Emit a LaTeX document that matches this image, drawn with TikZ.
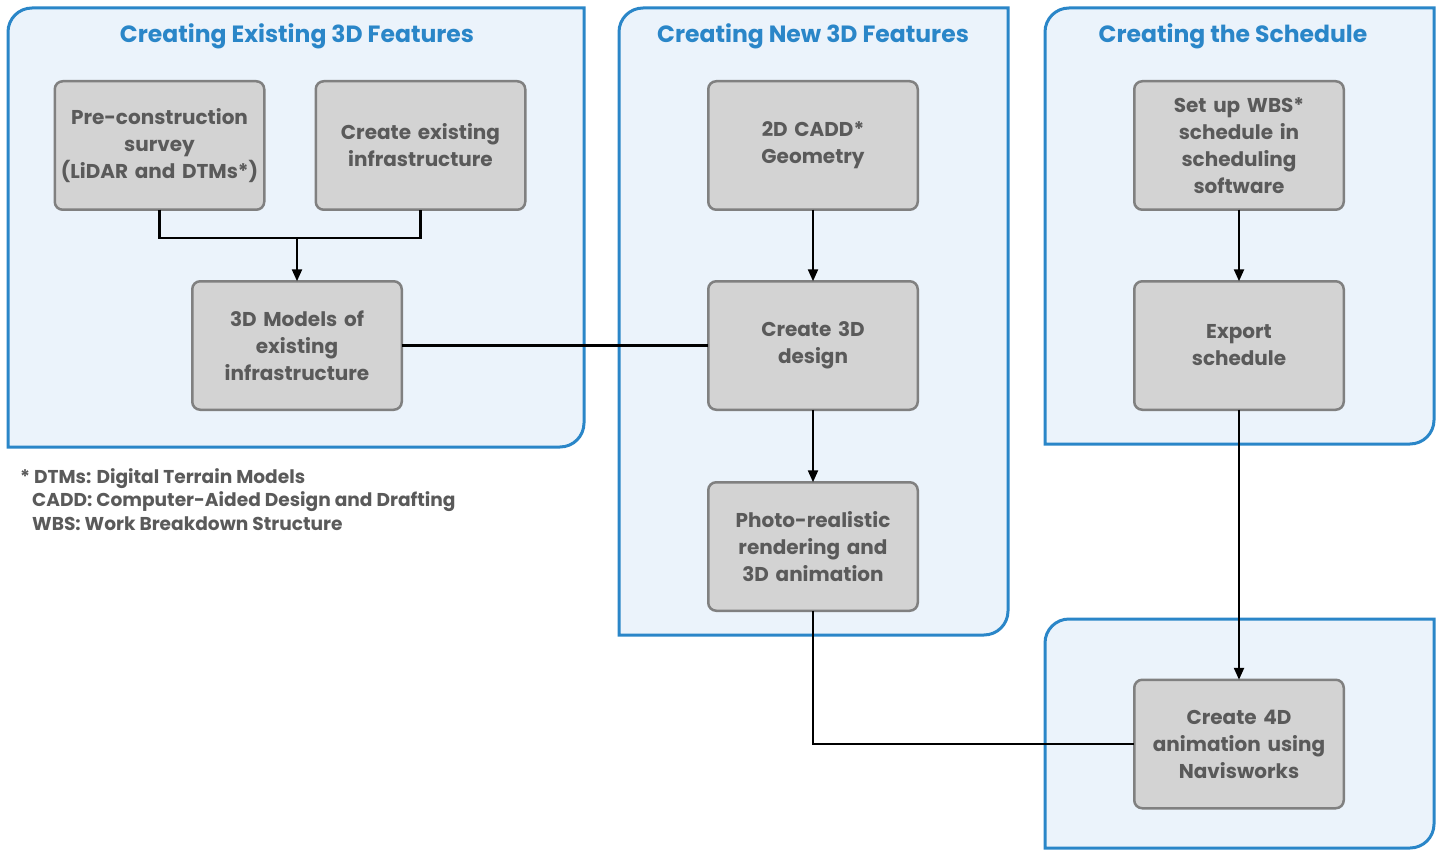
\documentclass[tikz,border=0pt]{standalone}
\usepackage{fontspec}
\setmainfont{Poppins}
\usetikzlibrary{positioning,arrows.meta}
\definecolor{panelblue}{HTML}{2A86C8}
\definecolor{panelfill}{HTML}{EBF3FB}
\definecolor{boxfill}{HTML}{D3D3D3}
\definecolor{boxline}{HTML}{808080}
\definecolor{boxtext}{HTML}{5A5A5A}
\tikzset{
  stepbox/.style={draw=boxline, line width=2.5pt, fill=boxfill, rounded corners=8pt,
    minimum width=209.5pt, minimum height=128.5pt, text width=205pt, align=center,
    outer sep=0pt, inner sep=0pt,
    text=boxtext, font=\fontsize{20}{27}\selectfont\bfseries},
  paneltitle/.style={text=panelblue, font=\fontsize{23.5}{28}\selectfont\bfseries},
  panel/.style={draw=panelblue, fill=panelfill, line width=3pt},
  link/.style={line width=2.3pt},
  flow/.style={link, -{Triangle[length=12pt,width=10pt]}},
}
% panel with rounded top-left and bottom-right corners
\newcommand{\tabpanel}[4]{%
  \draw[panel] (#1,#4) -- (#1,#2-24) arc[start angle=180,end angle=90,radius=24]
    -- (#3,#2) -- (#3,#4+24) arc[start angle=0,end angle=-90,radius=24] -- cycle;}

\begin{document}
\begin{tikzpicture}[x=1pt, y=1pt, node distance=71.5pt]
  \useasboundingbox (0,0) rectangle (1439,-850);

  % groups
  \tabpanel{8}{-8}{584}{-447}
  \tabpanel{619}{-8}{1008}{-635}
  \tabpanel{1045}{-8}{1434}{-444}
  \tabpanel{1045}{-619}{1434}{-848}

  \node[paneltitle] (existing) at (297,-36) {Creating Existing 3D Features};
  \node[paneltitle] (new) at (813,-36) {Creating New 3D Features};
  \node[paneltitle] (schedule) at (1233,-36) {Creating the Schedule};

  % existing features
  \node[stepbox] (survey) at (159.5,-145.5) {Pre-construction\\survey\\(LiDAR and DTMs*)};
  \node[stepbox, right=51.5pt of survey] (infra) {Create existing\\infrastructure};
  \node[stepbox] (models) at (297,-345.5) {3D Models of\\existing\\infrastructure};

  % new features
  \node[stepbox] (cadd) at (813,-145.5) {2D CADD*\\Geometry};
  \node[stepbox, below=of cadd] (design) {Create 3D\\design};
  \node[stepbox, below=72.5pt of design] (render) {Photo-realistic\\rendering and\\3D animation};

  % schedule
  \node[stepbox] (wbs) at (1239,-145.5) {Set up WBS*\\schedule in\\scheduling\\software};
  \node[stepbox, below=of wbs] (export) {Export\\schedule};
  \node[stepbox] (anim) at (1239,-744) {Create 4D\\animation using\\Navisworks};

  \node[anchor=north west, align=left, inner sep=0pt, text=boxtext,
    font=\fontsize{18.6}{23.5}\selectfont\bfseries] (notes) at (20,-468)
    {* DTMs: Digital Terrain Models\\
     \hspace*{12pt}CADD: Computer-Aided Design and Drafting\\
     \hspace*{12pt}WBS: Work Breakdown Structure};

  % connectors
  \coordinate (level) at (0,-238);
  \coordinate (join) at (models.north |- level);
  \draw[link] (survey.south) |- (join) -| (infra.south);
  \draw[flow] (join) -- (models.north);
  \draw[link] (models.east) -- (design.west);
  \draw[flow] (cadd) -- (design);
  \draw[flow] (design) -- (render);
  \draw[flow] (wbs) -- (export);
  \draw[flow] (export) -- (anim);
  \draw[link] (render.south) |- (anim.west);
\end{tikzpicture}
\end{document}
